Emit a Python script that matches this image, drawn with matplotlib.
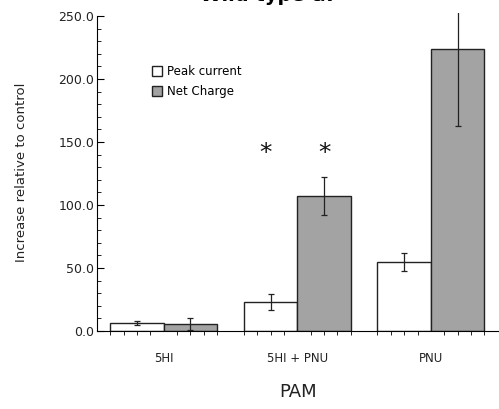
import numpy as np
import matplotlib
matplotlib.use('Agg')
import matplotlib.pyplot as plt

# PAM conditions and responses (% increase relative to control)
conditions = ['5HI', '5HI + PNU', 'PNU']
peak_current = [6.5, 23.0, 55.0]
peak_err = [1.5, 6.5, 7.0]
net_charge = [5.5, 107.0, 224.0]
net_err = [4.5, 15.0, 61.0]
stars = [False, True, False]  # groups marked significant
star_y = 141.0

fig = plt.figure(figsize=(4.99, 4.09), dpi=100)
ax = fig.add_axes([0.1944, 0.1907, 0.8056, 0.7779])

x = np.arange(len(conditions))
w = 0.4

ax.bar(x - w / 2, peak_current, w, color='white', edgecolor='#222222',
       linewidth=1.0, label='Peak current')
ax.bar(x + w / 2, net_charge, w, color='#a3a3a3', edgecolor='#222222',
       linewidth=1.0, label='Net Charge')
ax.errorbar(x - w / 2, peak_current, yerr=peak_err, fmt='none',
            ecolor='#222222', elinewidth=0.9, capsize=2.5, capthick=0.9)
ax.errorbar(x + w / 2, net_charge, yerr=net_err, fmt='none',
            ecolor='#222222', elinewidth=0.9, capsize=2.5, capthick=0.9)

for i, s in enumerate(stars):
    if s:
        ax.text(x[i] - w / 2 - 0.04, star_y, '*', ha='center', va='center',
                fontsize=18, color='#111111')
        ax.text(x[i] + w / 2, star_y, '*', ha='center', va='center',
                fontsize=18, color='#111111')

ax.set_xlim(-0.5, 2.51)
ax.set_ylim(0, 252.5)

ax.spines['top'].set_visible(False)
ax.spines['right'].set_visible(False)
ax.spines['left'].set_bounds(0, 250)

ax.set_yticks(np.arange(0, 251, 50))
ax.set_yticklabels(['%.1f' % v for v in np.arange(0, 251, 50)])
ax.set_yticks(np.arange(0, 251, 10), minor=True)
ax.tick_params(axis='y', which='major', direction='in', length=5,
               labelsize=9, pad=2, labelcolor='#222222')
ax.tick_params(axis='y', which='minor', direction='in', length=3)

ax.set_xticks(x)
ax.set_xticklabels(conditions)
minor_x = np.concatenate([np.arange(g - w, g + w + 0.01, w / 4) for g in x])
ax.set_xticks(minor_x, minor=True)
ax.tick_params(axis='x', which='major', length=0, labelsize=8.5, pad=15,
               labelcolor='#222222')
ax.tick_params(axis='x', which='minor', direction='out', length=3)

ax.set_ylabel('Increase relative to control', fontsize=9.5, labelpad=22,
              color='#222222')
ax.set_xlabel('PAM', fontsize=13, labelpad=13, color='#222222')

ax.legend(loc='upper left', bbox_to_anchor=(0.11, 0.87), frameon=False,
          fontsize=8.5, handlelength=0.9, handleheight=0.9, handletextpad=0.4,
          labelspacing=0.6)

fig.text(0.54, 1 - 1 / 409, 'Wild type \u03b17', ha='center', va='baseline',
         fontsize=14, fontweight='bold')

fig.savefig('out.png', dpi=100)
